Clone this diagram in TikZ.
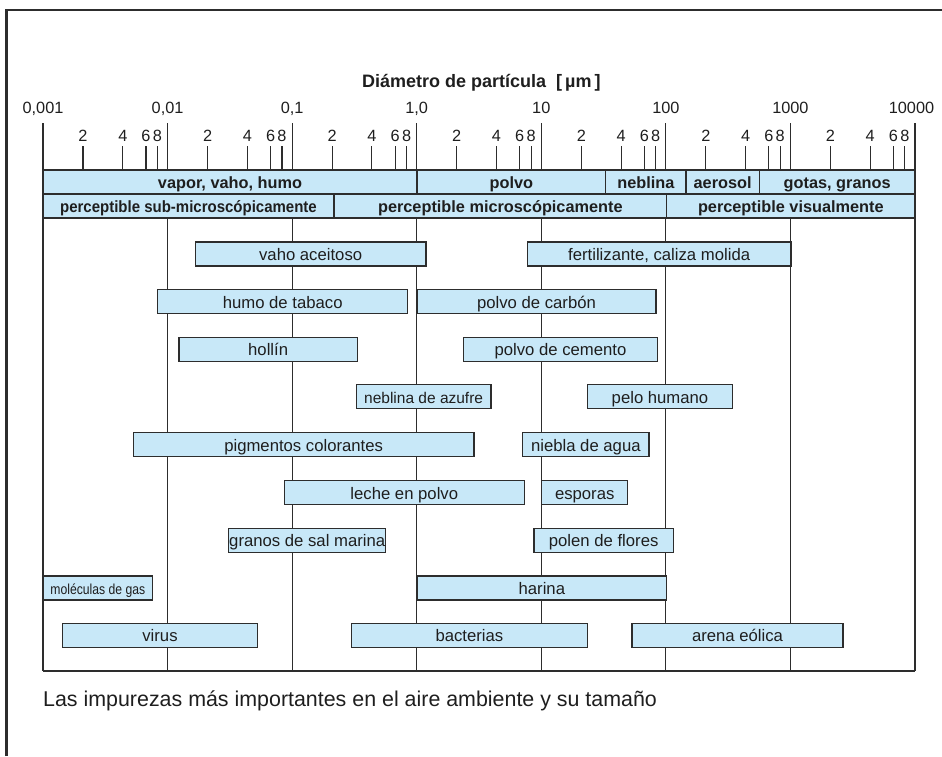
\documentclass[tikz,border=0pt]{standalone}
\usepackage{fontspec}
\usepackage{graphicx}
\setmainfont{Liberation Sans}
\newfontfamily\narrowfont[FakeStretch=0.84]{Liberation Sans}
\definecolor{barfill}{RGB}{200,232,248}
\definecolor{linec}{RGB}{45,45,45}
\definecolor{txt}{RGB}{30,30,30}
\newcommand\pbar[5]{\node[bar, minimum width={#3-#2}] (#1) at (#2,#4) {#5};}
\newcommand\pband[5]{\node[band, minimum width={#3-#2}] (#1) at (#2,#4) {#5};}
\begin{document}
\begin{tikzpicture}[x=1pt,y=-1pt,
  bar/.style={draw=linec, fill=barfill, line width=1.1pt, inner sep=0pt, outer sep=0pt,
    minimum height=24pt, anchor=north west, text=txt, text height=12.6pt, text depth=0pt,
    font=\fontsize{16.7}{18}\selectfont},
  band/.style={bar, font=\bfseries\fontsize{16.3}{18}\selectfont},
  ticklab/.style={text=txt, inner sep=0pt, anchor=base, font=\fontsize{16.3}{18}\selectfont},
  gridline/.style={draw=linec, line width=1.1pt}]
\useasboundingbox (0,0) rectangle (942,756);
% outer frame
\draw[line width=2.2pt, color=linec] (6.5,756) -- (6.5,10) -- (942,10);
% title
\node[anchor=base west, inner sep=0pt, text=txt, font=\bfseries\fontsize{18}{20}\selectfont] (title) at (362,87.7) {Diámetro de partícula\ \ [\,µm\,]};
% decade lines and labels
\foreach \k/\lab in {0/{0,001},1/{0,01},2/{0,1},3/{1,0},4/10,5/100,6/1000}{
  \pgfmathsetmacro\xx{43+124.57*\k}
  \draw[gridline] (\xx,123) -- (\xx,671);
  \node[ticklab] (d\k) at (\xx,113.5) {\lab};
  \foreach \f/\m in {40/2,79.8/4,103/6,114.4/8}{
    \draw[gridline] (\xx+\f,146) -- (\xx+\f,170);
    \node[ticklab] (m\k\m) at (\xx+\f,141.5) {\m};
  }
}
\draw[gridline] (915,123) -- (915,671);
\node[ticklab] (d7) at (911.5,113.5) {10000};
% bands
\pband{b1}{43}{417}{170}{vapor, vaho, humo}
\pband{b2}{417}{605.7}{170}{polvo}
\pband{b3}{605.7}{686}{170}{neblina}
\pband{b4}{686}{759.3}{170}{aerosol}
\pband{b5}{759.3}{915}{170}{gotas, granos}
\pband{c1}{43}{334}{194}{\scalebox{0.92}[1]{perceptible sub-microscópicamente}}
\pband{c2}{334}{666.7}{194}{perceptible microscópicamente}
\pband{c3}{666.7}{915}{194}{perceptible visualmente}
% bars
\pbar{vaho}{195.3}{426}{242}{vaho aceitoso}
\pbar{fert}{527.3}{791}{242}{fertilizante, caliza molida}
\pbar{humo}{157.7}{407.7}{289.7}{humo de tabaco}
\pbar{carbon}{417}{656}{289.7}{polvo de carbón}
\pbar{hollin}{179}{357.3}{337.3}{hollín}
\pbar{cemento}{463.3}{657.7}{337.3}{polvo de cemento}
\pbar{azufre}{356.3}{491}{384.7}{\fontsize{15.5}{18}\selectfont neblina de azufre}
\pbar{pelo}{587.3}{732.7}{384.7}{pelo humano}
\pbar{pigm}{133.3}{474}{432.7}{pigmentos colorantes}
\pbar{niebla}{522.7}{649}{432.7}{niebla de agua}
\pbar{leche}{284.3}{524.3}{480.7}{leche en polvo}
\pbar{esporas}{541.7}{627.7}{480.7}{esporas}
\pbar{sal}{228.7}{385.7}{528.3}{granos de sal marina}
\pbar{polen}{534}{673.3}{528.3}{polen de flores}
\pbar{gas}{43}{152.7}{576}{\narrowfont\fontsize{14.5}{18}\selectfont moléculas de gas}
\pbar{harina}{417}{666.7}{576}{harina}
\pbar{virus}{62.3}{257.7}{623.3}{virus}
\pbar{bact}{351.6}{587.2}{623.3}{bacterias}
\pbar{arena}{632}{843}{623.3}{arena eólica}
% bottom of chart
\draw[gridline] (43,671) -- (915,671);
% caption
\node[anchor=base west, inner sep=0pt, text=txt, font=\fontsize{21.4}{24}\selectfont] (cap) at (43,706.7) {Las impurezas más importantes en el aire ambiente y su tamaño};
\end{tikzpicture}
\end{document}
